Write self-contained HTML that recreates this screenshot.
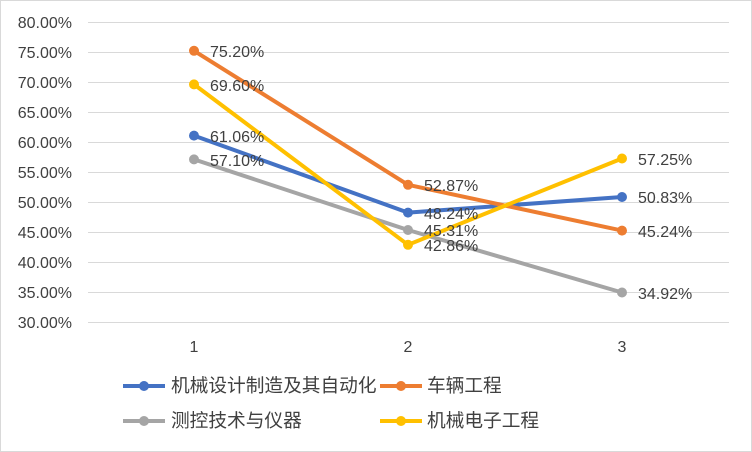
<!DOCTYPE html>
<html><head><meta charset="utf-8"><style>
body{margin:0;background:#fff}
svg{display:block}
text{font-family:"Liberation Sans","Noto Sans CJK SC",sans-serif;fill:#404040;font-size:16px}
.lg{font-size:18.7px}
</style></head><body>
<svg width="752" height="452" viewBox="0 0 752 452">
<rect x="0.5" y="0.5" width="751" height="451" fill="#fff" stroke="#d9d9d9"/>
<g stroke="#d9d9d9" stroke-width="1">
<line x1="88" x2="729" y1="22.5" y2="22.5"/><line x1="88" x2="729" y1="52.5" y2="52.5"/>
<line x1="88" x2="729" y1="82.5" y2="82.5"/><line x1="88" x2="729" y1="112.5" y2="112.5"/>
<line x1="88" x2="729" y1="142.5" y2="142.5"/><line x1="88" x2="729" y1="172.5" y2="172.5"/>
<line x1="88" x2="729" y1="202.5" y2="202.5"/><line x1="88" x2="729" y1="232.5" y2="232.5"/>
<line x1="88" x2="729" y1="262.5" y2="262.5"/><line x1="88" x2="729" y1="292.5" y2="292.5"/>
<line x1="88" x2="729" y1="322.5" y2="322.5"/>
</g>
<g text-anchor="end">
<text x="72" y="28">80.00%</text><text x="72" y="58">75.00%</text><text x="72" y="88">70.00%</text>
<text x="72" y="118">65.00%</text><text x="72" y="148">60.00%</text><text x="72" y="178">55.00%</text>
<text x="72" y="208">50.00%</text><text x="72" y="238">45.00%</text><text x="72" y="268">40.00%</text>
<text x="72" y="298">35.00%</text><text x="72" y="328">30.00%</text>
</g>
<g text-anchor="middle"><text x="194" y="352">1</text><text x="408" y="352">2</text><text x="622" y="352">3</text></g>
<g fill="none" stroke-width="4" stroke-linejoin="round">
<polyline stroke="#4472C4" points="194,135.6 408,212.6 622,197"/>
<polyline stroke="#ED7D31" points="194,50.8 408,184.8 622,230.6"/>
<polyline stroke="#A5A5A5" points="194,159.4 408,230 622,292.5"/>
<polyline stroke="#FFC000" points="194,84.4 408,244.8 622,158.5"/>
</g>
<g fill="#4472C4"><circle cx="194" cy="135.6" r="5"/><circle cx="408" cy="212.6" r="5"/><circle cx="622" cy="197" r="5"/></g>
<g fill="#ED7D31"><circle cx="194" cy="50.8" r="5"/><circle cx="408" cy="184.8" r="5"/><circle cx="622" cy="230.6" r="5"/></g>
<g fill="#A5A5A5"><circle cx="194" cy="159.4" r="5"/><circle cx="408" cy="230" r="5"/><circle cx="622" cy="292.5" r="5"/></g>
<g fill="#FFC000"><circle cx="194" cy="84.4" r="5"/><circle cx="408" cy="244.8" r="5"/><circle cx="622" cy="158.5" r="5"/></g>
<text x="210" y="142">61.06%</text><text x="424" y="219">48.24%</text><text x="638" y="203">50.83%</text>
<text x="210" y="57">75.20%</text><text x="424" y="191">52.87%</text><text x="638" y="237">45.24%</text>
<text x="210" y="166">57.10%</text><text x="424" y="236">45.31%</text><text x="638" y="299">34.92%</text>
<text x="210" y="91">69.60%</text><text x="424" y="251">42.86%</text><text x="638" y="165">57.25%</text>
<g stroke-width="4">
<line x1="123" x2="165" y1="386" y2="386" stroke="#4472C4"/><circle cx="144" cy="386" r="5" fill="#4472C4"/>
<line x1="380" x2="422" y1="386" y2="386" stroke="#ED7D31"/><circle cx="401" cy="386" r="5" fill="#ED7D31"/>
<line x1="123" x2="165" y1="421" y2="421" stroke="#A5A5A5"/><circle cx="144" cy="421" r="5" fill="#A5A5A5"/>
<line x1="380" x2="422" y1="421" y2="421" stroke="#FFC000"/><circle cx="401" cy="421" r="5" fill="#FFC000"/>
</g>
<text class="lg" x="171" y="392">机械设计制造及其自动化</text>
<text class="lg" x="427" y="392">车辆工程</text>
<text class="lg" x="171" y="427">测控技术与仪器</text>
<text class="lg" x="427" y="427">机械电子工程</text>
</svg>
</body></html>
